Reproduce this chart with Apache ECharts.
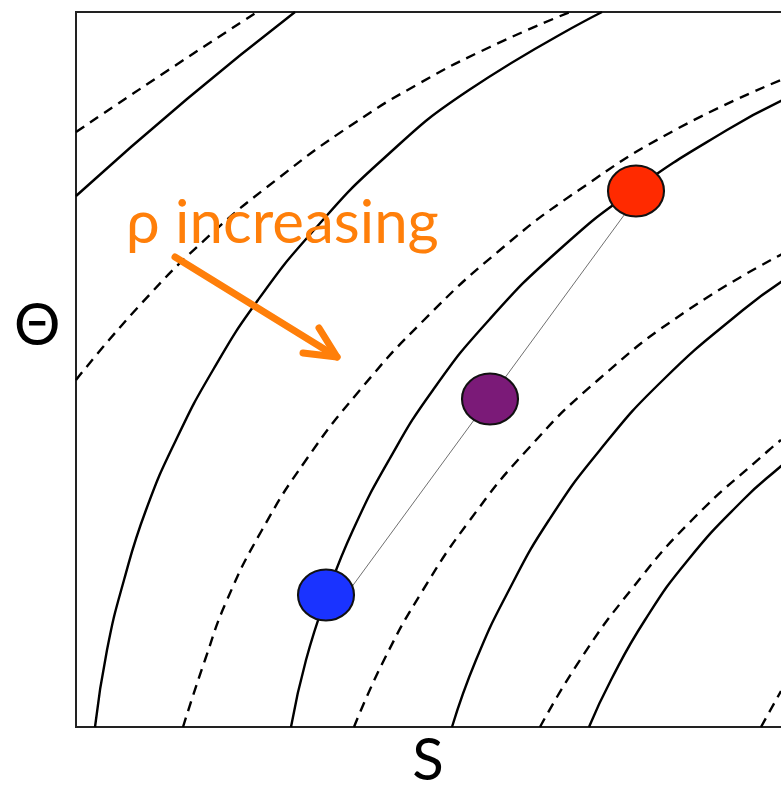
<!DOCTYPE html>
<html>
<head>
<meta charset="utf-8">
<script src="https://cdn.jsdelivr.net/npm/echarts@6/dist/echarts.min.js"></script>
<style>
  html, body { margin: 0; padding: 0; background: #fff; }
  #chart { width: 781px; height: 793px; }
</style>
</head>
<body>
<div id="chart"></div>
<script>
// density contours in the S-Theta plane, [S, Theta] in arbitrary units
var solid1 = [[0, 531], [111, 628], [219, 715]];
var solid2 = [[19, 0], [31, 77], [48, 147], [70, 217], [100, 287], [137, 357], [182, 427], [238, 497], [306, 567], [393, 637], [526, 715]];
var solid3 = [[215, 0], [230, 67], [251, 132], [277, 197], [313, 267], [357, 337], [413, 407], [483, 477], [558, 537], [651, 597], [707, 627]];
var solid4 = [[376, 0], [400, 67], [433, 137], [473, 207], [524, 277], [587, 347], [667, 417], [708, 447]];
var solid5 = [[513, 0], [535, 47], [569, 107], [612, 167], [667, 227], [704, 260], [719, 272]];

var dashed1 = [[0, 595], [91, 656], [181, 715]];
var dashed2 = [[0, 347], [64, 422], [134, 492], [204, 550], [274, 601], [344, 644], [414, 680], [494, 715]];
var dashed3 = [[107, 0], [129, 67], [151, 127], [186, 197], [230, 267], [284, 337], [348, 407], [424, 477], [503, 537], [599, 597], [705, 647]];
var dashed4 = [[278, 0], [308, 67], [347, 137], [394, 207], [451, 277], [522, 347], [612, 417], [710, 475]];
var dashed5 = [[464, 0], [504, 67], [555, 137], [616, 207], [693, 277], [705, 287]];
var dashed6 = [[685, 0], [705, 36]];

// water masses
var blueWater = [250, 132];
var purpleWater = [414, 328];
var redWater = [560, 536];
var mixingLine = [[264, 124], [554, 520]];

// annotation arrow
var arrowShaft = [[99, 470], [261, 370]];
var arrowHead = [[243, 399], [261, 370], [227, 374]];

var FONT = 'Lato, "Open Sans", "Noto Sans", sans-serif';
var ORANGE = '#ff7f0a';

var series = [];
[solid1, solid2, solid3, solid4, solid5].forEach(function (d) {
    series.push({
        type: 'line', data: d, smooth: 0.5, showSymbol: false, silent: true, z: 2,
        lineStyle: { color: '#000', width: 2.4 }
    });
});
[dashed1, dashed2, dashed3, dashed4, dashed5, dashed6].forEach(function (d) {
    series.push({
        type: 'line', data: d, smooth: 0.5, showSymbol: false, silent: true, z: 2,
        lineStyle: { color: '#000', width: 2.4, type: [10, 7] }
    });
});
series.push({
    type: 'line', data: arrowShaft, showSymbol: false, z: 3,
    lineStyle: { color: ORANGE, width: 7, cap: 'round' }
});
series.push({
    type: 'line', data: arrowHead, showSymbol: false, z: 3,
    lineStyle: { color: ORANGE, width: 7, cap: 'round', join: 'round' }
});
series.push({
    type: 'line', data: mixingLine, showSymbol: false, z: 4,
    lineStyle: { color: '#707070', width: 1 }
});
[[blueWater, '#1a33ff'], [purpleWater, '#7b1a78'], [redWater, '#ff2a00']].forEach(function (p) {
    series.push({
        type: 'scatter', data: [p[0]], symbol: 'circle', symbolSize: [56, 51], z: 5,
        itemStyle: { color: p[1], borderColor: '#111', borderWidth: 2, opacity: 1 }
    });
});

var chart = echarts.init(document.getElementById('chart'));
chart.setOption({
    animation: false,
    backgroundColor: '#fff',
    grid: {
        left: 76, top: 12, right: -2, bottom: 66,
        outerBoundsMode: 'none', containLabel: false,
        show: true, borderColor: '#222', borderWidth: 2, backgroundColor: 'transparent'
    },
    xAxis: {
        type: 'value', min: 0, max: 707,
        name: 'S', nameLocation: 'middle', nameGap: 5,
        nameTextStyle: { fontFamily: FONT, fontSize: 58, color: '#000', padding: [0, 3, 0, 0] },
        axisLine: { show: false }, axisTick: { show: false }, axisLabel: { show: false }, splitLine: { show: false }
    },
    yAxis: {
        type: 'value', min: 0, max: 715,
        axisLine: { show: false }, axisTick: { show: false }, axisLabel: { show: false }, splitLine: { show: false }
    },
    graphic: [{
        type: 'text', left: 126, top: 194, z: 10,
        style: { text: 'ρ increasing', font: '60px ' + FONT, fill: ORANGE }
    }, {
        type: 'text', left: 14, top: 297, z: 10,
        style: { text: 'Θ', font: '58px ' + FONT, fill: '#000' }
    }],
    series: series
});
</script>
</body>
</html>
